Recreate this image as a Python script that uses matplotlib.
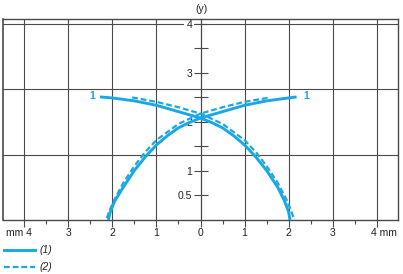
import matplotlib
matplotlib.use("Agg")
import matplotlib.pyplot as plt
from matplotlib.lines import Line2D

plt.rcParams['font.family'] = ['Liberation Sans', 'DejaVu Sans']

# ---- data ----
# solid curve (1), branch going from upper-left to lower-right
s1a_x = [-2.28, -2.0, -1.5, -1.0, -0.5, 0.0, 0.25, 0.5, 0.75, 1.0, 1.25, 1.5, 1.75, 1.9, 2.0, 2.03]
s1a_y = [2.51, 2.49, 2.43, 2.34, 2.21, 2.08, 1.99, 1.88, 1.72, 1.53, 1.29, 1.01, 0.67, 0.40, 0.16, 0.0]
# solid curve (1), branch going from upper-right to lower-left
s1b_x = [2.18, 2.0, 1.5, 1.0, 0.5, 0.0, -0.25, -0.5, -0.75, -1.0, -1.25, -1.5, -1.75, -1.95, -2.05, -2.09]
s1b_y = [2.51, 2.49, 2.43, 2.34, 2.21, 2.08, 1.99, 1.88, 1.72, 1.53, 1.29, 1.01, 0.67, 0.38, 0.16, 0.0]
# dashed curve (2)
d2a_x = [-1.55, -1.0, -0.5, 0.0, 0.5, 1.0, 1.25, 1.5, 1.75, 1.95, 2.05, 2.13]
d2a_y = [2.50, 2.41, 2.30, 2.17, 1.96, 1.63, 1.39, 1.10, 0.76, 0.42, 0.20, 0.0]
d2b_x = [1.52, 1.0, 0.5, 0.0, -0.5, -1.0, -1.25, -1.5, -1.75, -1.95, -2.06, -2.14]
d2b_y = [2.49, 2.41, 2.30, 2.17, 1.96, 1.63, 1.39, 1.10, 0.76, 0.42, 0.20, 0.0]

x_ticks = [-4, -3, -2, -1, 0, 1, 2, 3, 4]
x_tick_labels = ['', '3', '2', '1', '0', '1', '2', '3', '']
x_end_labels = ['mm 4', '4 mm']
x_minor = [-3.5, -2.5, -1.5, -0.5, 0.5, 1.5, 2.5, 3.5]
y_ticks = [0.5, 1, 1.5, 2, 2.5, 3, 3.5, 4]
y_tick_labels = ['0.5', '1', '', '2', '', '3', '', '4']
h_grid = [4 / 3, 8 / 3, 4]
legend_labels = ['(1)', '(2)']

BLUE = '#1aa8e4'
GRID = '#4a4a4a'
TXT = '#222222'

fig = plt.figure(figsize=(4.03, 2.74), dpi=100)
ax = fig.add_axes([3 / 403, 1 - 220 / 274, 395 / 403, 201 / 274])
ax.set_xlim(-4.48, 4.48)
ax.set_ylim(0, 4.10)

# grid
for gx in x_ticks:
    if gx != 0:
        ax.axvline(gx, color=GRID, lw=0.8, zorder=1)
for gy in h_grid:
    ax.axhline(gy, color=GRID, lw=0.8, zorder=1)
ax.axvline(-4.48, color=GRID, lw=1.2, zorder=1, clip_on=False)

# curves
ax.plot(s1a_x, s1a_y, color=BLUE, lw=2.1, solid_capstyle='butt', zorder=3)
ax.plot(s1b_x, s1b_y, color=BLUE, lw=2.1, solid_capstyle='butt', zorder=3)
ax.plot(d2a_x, d2a_y, color=BLUE, lw=1.6, dashes=(2.6, 1.3), zorder=3)
ax.plot(d2b_x, d2b_y, color=BLUE, lw=1.6, dashes=(2.6, 1.3), zorder=3)

ax.text(-2.40, 2.53, '1', color=BLUE, fontsize=7.5, fontweight='bold', ha='right', va='center')
ax.text(2.33, 2.53, '1', color=BLUE, fontsize=7.5, fontweight='bold', ha='left', va='center')

# spines
for s in ['top', 'right']:
    ax.spines[s].set_color(GRID)
    ax.spines[s].set_linewidth(1.0)
ax.spines['left'].set_position(('data', 0))
ax.spines['left'].set_color(GRID)
ax.spines['left'].set_linewidth(0.9)
ax.spines['bottom'].set_color(GRID)
ax.spines['bottom'].set_linewidth(1.0)

ax.set_xticks(x_ticks)
ax.set_xticklabels(x_tick_labels)
ax.set_xticks(x_minor, minor=True)
ax.tick_params(axis='x', which='major', direction='out', length=5, width=0.8,
               color=GRID, labelsize=7.5, labelcolor=TXT, pad=0.8)
ax.tick_params(axis='x', which='minor', direction='out', length=3, width=0.8, color=GRID)
ax.set_yticks(y_ticks)
ax.set_yticklabels(y_tick_labels)
ax.tick_params(axis='y', which='major', direction='inout', length=10, width=0.8,
               color=GRID, labelsize=7.5, labelcolor=TXT, pad=1)
for lbl in ax.get_yticklabels():
    if lbl.get_text() == '4':
        lbl.set_bbox(dict(facecolor='white', edgecolor='none', pad=1.5))

# end labels with unit
yl = 1 - 232.5 / 274
fig.text(6 / 403, yl, x_end_labels[0], fontsize=7.5, color=TXT, ha='left', va='center')
fig.text(397 / 403, yl, x_end_labels[1], fontsize=7.5, color=TXT, ha='right', va='center')
fig.text(201 / 403, 1 - 8.5 / 274, '(y)', fontsize=7.5, color=TXT, ha='center', va='center')

# legend
styles = [dict(lw=2.1, linestyle='-'), dict(lw=1.6, dashes=(2.6, 1.3))]
ys = [250, 267]
for lab, st, yy in zip(legend_labels, styles, ys):
    yf = 1 - yy / 274
    fig.add_artist(Line2D([4 / 403, 35 / 403], [yf, yf], color=BLUE, **st))
    fig.text(40 / 403, yf, lab, fontsize=7.5, style='italic', color=TXT, ha='left', va='center')

fig.savefig('out.png', dpi=100)
